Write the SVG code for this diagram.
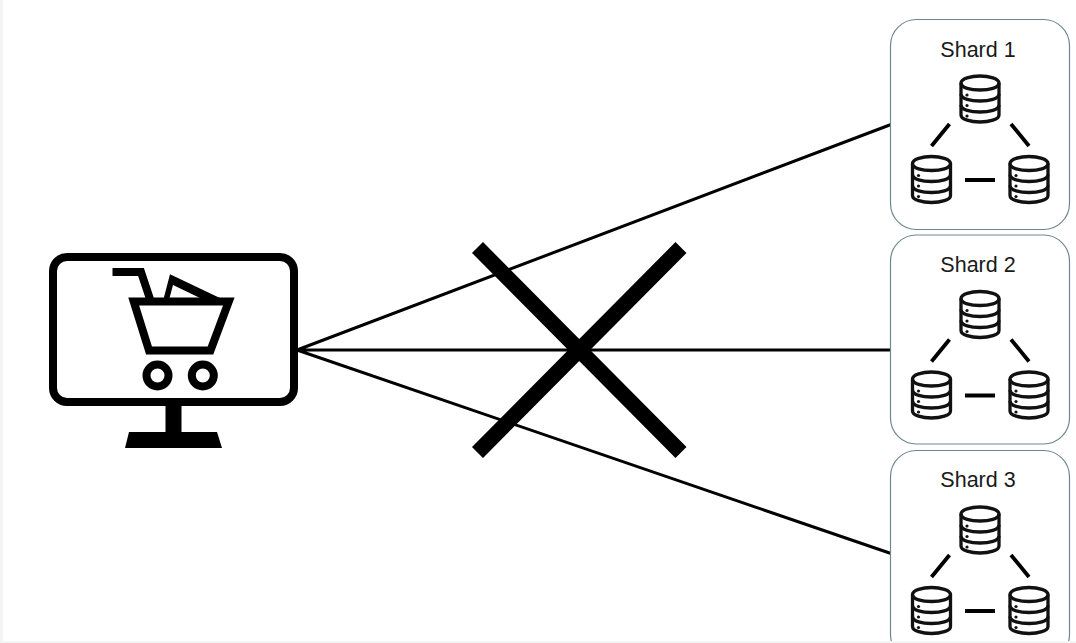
<svg xmlns="http://www.w3.org/2000/svg" xmlns:xlink="http://www.w3.org/1999/xlink" width="1076" height="643" viewBox="0 0 1076 643">
<style>
.box{fill:#fff;stroke:#6f8791;stroke-width:1.200}
.lbl{font-family:"Liberation Sans",Arial,sans-serif;font-size:21.500px;fill:#1a1a1a;text-anchor:middle}
.link{stroke:#000;stroke-width:3;fill:none}
.thick{stroke:#000;stroke-width:3.800;fill:none}
.db{stroke:#111;stroke-width:3.300;fill:#fff}
.k{stroke:#000;stroke-width:8;fill:none}
</style>
<defs>
<g id="db">
<path class="db" d="M-19,-16V16C-19,20.500-9,23-0,23C9,23 19,20.500 19,16V-16C19,-20.500 9,-23 0,-23C-9,-23-19,-20.500-19,-16Z"/>
<path class="db" style="fill:none" d="M-19,-16C-19,-11-9,-9 0,-9C9,-9 19,-11 19,-16M-19,-5C-19,0-9,2 0,2C9,2 19,0 19,-5M-19,6C-19,11-9,13 0,13C9,13 19,11 19,6"/>
<circle cx="-13" cy="-4" r="1.600" fill="#111"/>
<circle cx="-13" cy="6.500" r="1.600" fill="#111"/>
<circle cx="-13" cy="17" r="1.600" fill="#111"/>
</g>
<g id="trio">
<use xlink:href="#db" href="#db" x="980" y="99"/>
<use xlink:href="#db" href="#db" x="931.500" y="179.500"/>
<use xlink:href="#db" href="#db" x="1029" y="179.500"/>
<path class="thick" d="M949.500,124L931.500,146M1011,124L1029,146M965,180H995"/>
</g>
</defs>
<rect width="1076" height="643" fill="#fff"/>
<rect x="0" y="641" width="1076" height="2" fill="#f3f4f4"/>
<rect x="0" y="0" width="3" height="643" fill="#f3f4f4"/>
<g id="connectors">
<path class="link" d="M297,350L891,124.500M297,350H891M297,350L891,553.500"/>
</g>
<g id="shard1">
<rect class="box" x="890.500" y="19.500" width="179" height="210" rx="26"/>
<text class="lbl" x="978" y="56.500">Shard 1</text>
<use xlink:href="#trio" href="#trio"/>
</g>
<g id="shard2">
<rect class="box" x="890.500" y="235" width="179" height="209" rx="26"/>
<text class="lbl" x="978" y="271.500">Shard 2</text>
<use xlink:href="#trio" href="#trio" y="215.500"/>
</g>
<g id="shard3">
<rect class="box" x="890.500" y="450.500" width="179" height="210" rx="26"/>
<text class="lbl" x="978" y="487">Shard 3</text>
<use xlink:href="#trio" href="#trio" y="431"/>
<rect x="880" y="641" width="196" height="2" fill="#f3f4f4"/>
</g>
<g id="client">
<rect class="k" x="53" y="257" width="241" height="145" rx="14"/>
<rect x="165.500" y="404" width="16" height="30" fill="#000"/>
<path d="M129,432H217L222,448H125Z" fill="#000"/>
<path class="k" d="M112.500,272H141L150,299"/>
<path class="k" d="M133.700,301.500H228.800L210.500,350.500H149Z"/>
<path fill="#000" fill-rule="evenodd" d="M163.500,299L170,274.300L222,299ZM173,285L169.500,298H200Z"/>
<circle class="k" cx="157.500" cy="375.500" r="11"/>
<circle class="k" cx="202.800" cy="375.500" r="11"/>
</g>
<g id="blocked">
<path d="M477.500,247.500L681,452.500M681,247.500L477.500,452.500" stroke="#000" stroke-width="15.500" fill="none"/>
</g>
</svg>
